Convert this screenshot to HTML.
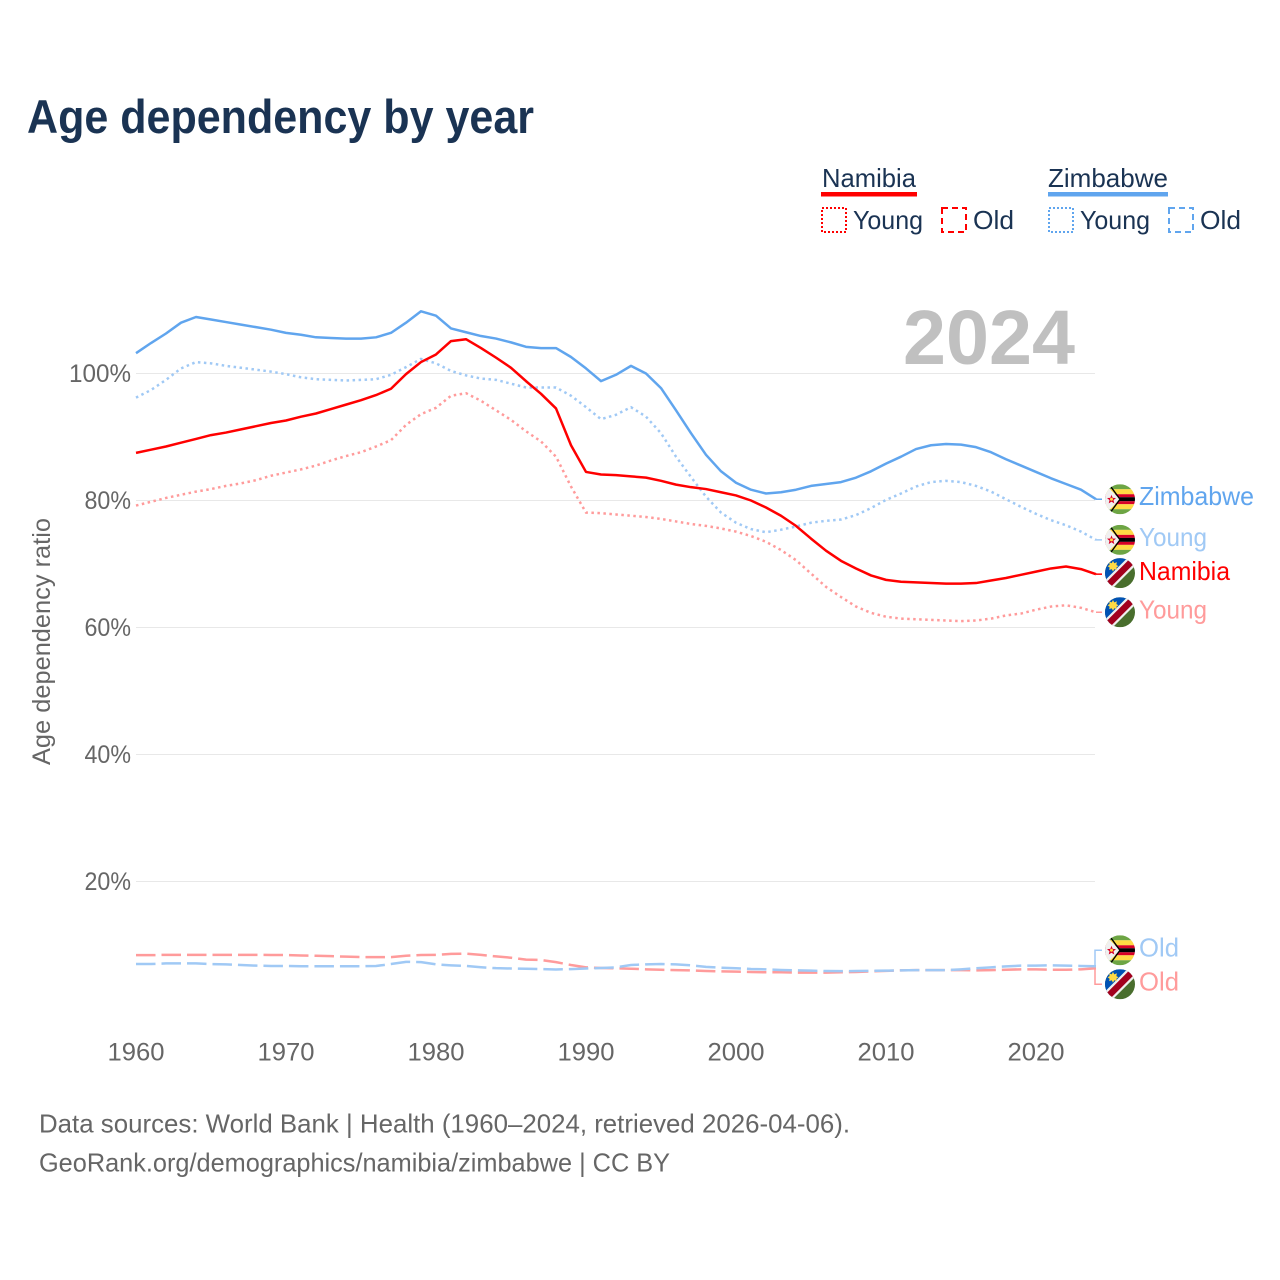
<!DOCTYPE html>
<html lang="en">
<head>
<meta charset="utf-8">
<title>Age dependency by year</title>
<style>
html,body{margin:0;padding:0;background:#fff;width:1280px;height:1280px;overflow:hidden}
svg{display:block;font-family:"Liberation Sans",Arial,sans-serif}
</style>
</head>
<body>
<svg id="chart" width="1280" height="1280" viewBox="0 0 1280 1280" xmlns="http://www.w3.org/2000/svg">
<defs>
  <clipPath id="flag-clip"><circle cx="0" cy="0" r="15"/></clipPath>
  <g id="flag-zw" clip-path="url(#flag-clip)">
    <rect x="-15" y="-15" width="30" height="30" fill="#f0f0f0"/>
    <rect x="-15" y="-15" width="30" height="5" fill="#6da544"/>
    <rect x="-15" y="-10" width="30" height="5" fill="#ffda44"/>
    <rect x="-15" y="-5" width="30" height="3" fill="#d80027"/>
    <rect x="-15" y="-2" width="30" height="4" fill="#000"/>
    <rect x="-15" y="2" width="30" height="3" fill="#d80027"/>
    <rect x="-15" y="5" width="30" height="5" fill="#ffda44"/>
    <rect x="-15" y="10" width="30" height="5" fill="#6da544"/>
    <path d="M-15-15L0 0L-15 15Z" fill="#f0f0f0"/>
    <path d="M-11-15L0 0L-11 15" fill="none" stroke="#000" stroke-width="1.4"/>
    <path d="M-8.5-4.5L-7.3-1.4L-4-1.2L-6.5 .9L-5.7 4.2L-8.5 2.4L-11.3 4.2L-10.5 .9L-13-1.2L-9.7-1.4Z" fill="#d80027"/>
    <circle cx="-8.5" cy="0" r="1.5" fill="#ffda44"/>
  </g>
  <g id="flag-na" clip-path="url(#flag-clip)">
    <rect x="-15" y="-15" width="30" height="30" fill="#496e2d"/>
    <path d="M-15-15H15L-15 15Z" fill="#0052b4"/>
    <path d="M15-15L-15 15" stroke="#f0f0f0" stroke-width="11"/>
    <path d="M15-15L-15 15" stroke="#a2001d" stroke-width="6.5"/>
    <path d="M-7-12.3L-5.7-9.9L-3.2-11L-3.6-8.2L-1.6-7L-3.6-5.6L-3.2-3.2L-5.7-4L-7-1.7L-8.3-4L-10.8-3.2L-10.4-5.6L-12.4-7L-10.4-8.2L-10.8-11L-8.3-9.9Z" fill="#ffda44"/>
  </g>
</defs>

<text x="27" y="133" font-size="47" font-weight="700" fill="#1a3353" textLength="507" lengthAdjust="spacingAndGlyphs">Age dependency by year</text>

<g font-size="26" fill="#1a3353">
  <text x="822" y="187" textLength="94" lengthAdjust="spacingAndGlyphs">Namibia</text>
  <rect x="821" y="192" width="96" height="4.5" fill="#ff0000"/>
  <rect x="822" y="208" width="24" height="24" fill="none" stroke="#ff0000" stroke-width="2" stroke-dasharray="2 2"/>
  <text x="853" y="229" textLength="70" lengthAdjust="spacingAndGlyphs">Young</text>
  <rect x="942" y="208" width="24" height="24" fill="none" stroke="#ff0000" stroke-width="2" stroke-dasharray="6 4"/>
  <text x="973" y="229" textLength="41" lengthAdjust="spacingAndGlyphs">Old</text>
  <text x="1048" y="187" textLength="120" lengthAdjust="spacingAndGlyphs">Zimbabwe</text>
  <rect x="1048" y="192" width="120" height="4.5" fill="#60a5ee"/>
  <rect x="1049" y="208" width="24" height="24" fill="none" stroke="#60a5ee" stroke-width="2" stroke-dasharray="2 2"/>
  <text x="1080" y="229" textLength="70" lengthAdjust="spacingAndGlyphs">Young</text>
  <rect x="1169" y="208" width="24" height="24" fill="none" stroke="#60a5ee" stroke-width="2" stroke-dasharray="6 4"/>
  <text x="1200" y="229" textLength="41" lengthAdjust="spacingAndGlyphs">Old</text>
</g>

<g id="grid"></g>
<text x="903" y="364" font-size="77" font-weight="700" fill="#c0c0c0" textLength="172" lengthAdjust="spacingAndGlyphs">2024</text>
<text transform="translate(50,765) rotate(-90)" font-size="25" fill="#666666" textLength="247" lengthAdjust="spacingAndGlyphs">Age dependency ratio</text>
<g id="y-ticks" font-size="25" fill="#666666" text-anchor="end"></g>
<g id="x-ticks" font-size="25" fill="#666666" text-anchor="middle"></g>
<g id="series" fill="none" stroke-linejoin="round"></g>
<g id="end-labels" font-size="26"></g>

<g font-size="26" fill="#666666">
  <text x="39" y="1132.5" textLength="811" lengthAdjust="spacingAndGlyphs">Data sources: World Bank | Health (1960–2024, retrieved 2026-04-06).</text>
  <text x="39" y="1171.5" textLength="631" lengthAdjust="spacingAndGlyphs">GeoRank.org/demographics/namibia/zimbabwe | CC BY</text>
</g>
</svg>

<script>
const firstYear = 1960;
const yTickValues = [20, 40, 60, 80, 100];
const yTickLabels = ["20%", "40%", "60%", "80%", "100%"];
const xTickValues = [1960, 1970, 1980, 1990, 2000, 2010, 2020];
const xTickLabels = ["1960", "1970", "1980", "1990", "2000", "2010", "2020"];

const namibiaOld = [8.4,8.4,8.45,8.45,8.45,8.45,8.45,8.45,8.45,8.43,8.43,8.35,8.3,8.25,8.16,8.1,8.1,8.1,8.3,8.43,8.45,8.6,8.63,8.45,8.2,8.0,7.7,7.64,7.3,6.85,6.48,6.38,6.33,6.27,6.17,6.1,6.05,6.0,5.9,5.85,5.8,5.75,5.7,5.7,5.65,5.65,5.65,5.7,5.75,5.85,5.93,6.0,6.05,6.05,6.05,6.05,6.0,6.05,6.1,6.17,6.17,6.1,6.1,6.17,6.33];
const namibiaYoung = [79.2,79.8,80.4,80.9,81.4,81.8,82.3,82.7,83.2,83.9,84.4,84.9,85.5,86.3,87,87.6,88.5,89.5,91.9,93.6,94.6,96.5,96.9,95.7,94.2,92.7,90.9,89.3,86.9,82.2,78.1,78,77.8,77.6,77.4,77.1,76.7,76.3,76,75.6,75.1,74.4,73.5,72.2,70.6,68.5,66.4,64.8,63.3,62.3,61.7,61.4,61.3,61.2,61.1,61,61.1,61.4,61.9,62.2,62.8,63.3,63.5,63.1,62.4];
const namibiaTotal = [87.5,88,88.5,89.1,89.7,90.3,90.7,91.2,91.7,92.2,92.6,93.2,93.7,94.4,95.1,95.8,96.6,97.6,99.9,101.8,103,105.1,105.4,104,102.5,100.9,98.8,96.8,94.5,88.7,84.5,84.1,84,83.8,83.6,83.1,82.5,82.1,81.8,81.3,80.8,80,78.9,77.6,76,74,72.1,70.5,69.3,68.2,67.5,67.2,67.1,67,66.9,66.9,67,67.4,67.8,68.3,68.8,69.3,69.6,69.2,68.4];
const zimbabweOld = [7,7,7.1,7.1,7.1,7,6.95,6.85,6.75,6.7,6.7,6.65,6.65,6.65,6.65,6.65,6.7,7,7.35,7.3,6.95,6.8,6.7,6.5,6.35,6.3,6.25,6.2,6.15,6.2,6.3,6.38,6.48,6.85,6.95,7,6.95,6.8,6.55,6.43,6.33,6.22,6.17,6.06,6,5.96,5.9,5.88,5.9,5.93,5.96,6,6.05,6.05,6.05,6.17,6.33,6.48,6.63,6.75,6.75,6.8,6.75,6.7,6.65];
const zimbabweYoung = [96.2,97.4,99,100.8,101.8,101.6,101.2,100.9,100.6,100.3,99.9,99.4,99.1,99,98.9,99,99.1,99.8,101,102.3,101.6,100.4,99.7,99.2,99,98.4,97.8,97.8,97.8,96.5,94.7,92.8,93.5,94.7,93.2,90.6,86.9,83.7,80.6,78.1,76.5,75.5,75,75.4,75.9,76.5,76.8,77,77.7,78.8,80.1,81.1,82.2,82.9,83.1,82.9,82.3,81.4,80.2,79,77.9,76.9,76.1,75.1,73.8];
const zimbabweTotal = [103.2,104.8,106.3,108,108.9,108.5,108.1,107.7,107.3,106.9,106.4,106.1,105.7,105.6,105.5,105.5,105.7,106.4,108,109.8,109.1,107.1,106.5,105.9,105.5,104.9,104.2,104,104,102.6,100.8,98.8,99.8,101.2,100,97.7,94.2,90.6,87.2,84.6,82.8,81.7,81.1,81.3,81.7,82.3,82.6,82.9,83.6,84.6,85.8,86.9,88.1,88.7,88.9,88.8,88.4,87.6,86.5,85.5,84.5,83.5,82.6,81.7,80.2];

const NS = "http://www.w3.org/2000/svg";
function xScale(year) { return 136 + (year - 1960) * 15; }
function yScale(value) { return 1008.5 - value * 6.35; }
function make(tag, parent, attrs, text) {
  const el = document.createElementNS(NS, tag);
  for (const k in attrs) el.setAttribute(k, attrs[k]);
  if (text !== undefined) el.textContent = text;
  parent.appendChild(el);
  return el;
}
const gridG = document.getElementById("grid");
const yG = document.getElementById("y-ticks");
const xG = document.getElementById("x-ticks");
const seriesG = document.getElementById("series");
const labelsG = document.getElementById("end-labels");

yTickValues.forEach(function (v, i) {
  const line = make("line", gridG, { x1: 136, x2: 1095, y1: yScale(v), y2: yScale(v), stroke: "#e8e8e8", "stroke-width": 1 });
  
  
  const label = make("text", yG, { x: 131, y: yScale(v) + 8.5, textLength: yTickLabels[i].length * 15.5, lengthAdjust: "spacingAndGlyphs" }, yTickLabels[i]);
  
  
});
xTickValues.forEach(function (v, i) {
  const label = make("text", xG, { x: xScale(v), y: 1060.5, textLength: 57, lengthAdjust: "spacingAndGlyphs" }, xTickLabels[i]);
  
  
});

function pathFor(values) {
  return values.map(function (v, i) {
    return (i ? "L" : "M") + xScale(firstYear + i).toFixed(1) + " " + yScale(v).toFixed(2);
  }).join("");
}
function drawSeries(name, values, color, dash) {
  const p = make("path", seriesG, { d: pathFor(values), stroke: color, "stroke-width": 2.5 });
  if (dash) p.setAttribute("stroke-dasharray", dash);
  
  
}
const RED = "#ff0000", RED_L = "#ff9b9b", BLUE = "#60a5ee", BLUE_L = "#a0c9f5";
drawSeries("line-namibia-old", namibiaOld, RED_L, "19.5 6");
drawSeries("line-zimbabwe-old", zimbabweOld, BLUE_L, "19.5 6");
drawSeries("line-namibia-young", namibiaYoung, RED_L, "2.5 3.5");
drawSeries("line-zimbabwe-young", zimbabweYoung, BLUE_L, "2.5 3.5");
drawSeries("line-zimbabwe-total", zimbabweTotal, BLUE);
drawSeries("line-namibia-total", namibiaTotal, RED);

const lastIndex = zimbabweTotal.length - 1;
const endX = xScale(firstYear + lastIndex);
function endLabel(name, flag, text, width, color, lineY, flagY, labelDy) {
  const conn = make("path", labelsG, { d: Math.abs(lineY - flagY) < 1.5 ? "M" + endX + " " + lineY + "H1102" : "M" + endX + " " + lineY + "H1095V" + flagY + "H1102", fill: "none", stroke: color, "stroke-width": 1.5 });
  
  
  const u = make("use", labelsG, { href: "#" + flag, transform: "translate(1120 " + flagY + ")" });
  
  
  const t = make("text", labelsG, { x: 1139, y: flagY + labelDy, fill: color, textLength: width, lengthAdjust: "spacingAndGlyphs" }, text);
  
  
}
const zimOldY = yScale(zimbabweOld[lastIndex]);
const namOldY = yScale(namibiaOld[lastIndex]);
const oldMid = (zimOldY + namOldY) / 2;
endLabel("end-zimbabwe-total", "flag-zw", "Zimbabwe", 115, BLUE, yScale(zimbabweTotal[lastIndex]), yScale(zimbabweTotal[lastIndex]), 6);
endLabel("end-zimbabwe-young", "flag-zw", "Young", 68, BLUE_L, yScale(zimbabweYoung[lastIndex]), yScale(zimbabweYoung[lastIndex]), 6);
endLabel("end-namibia-total", "flag-na", "Namibia", 91, RED, yScale(namibiaTotal[lastIndex]), yScale(namibiaTotal[lastIndex]) - 1, 7);
endLabel("end-namibia-young", "flag-na", "Young", 68, RED_L, yScale(namibiaYoung[lastIndex]), yScale(namibiaYoung[lastIndex]), 6);
endLabel("end-zimbabwe-old", "flag-zw", "Old", 40, BLUE_L, zimOldY, oldMid - 17, 6);
endLabel("end-namibia-old", "flag-na", "Old", 40, RED_L, namOldY, oldMid + 17, 6);
</script>
</body>
</html>
